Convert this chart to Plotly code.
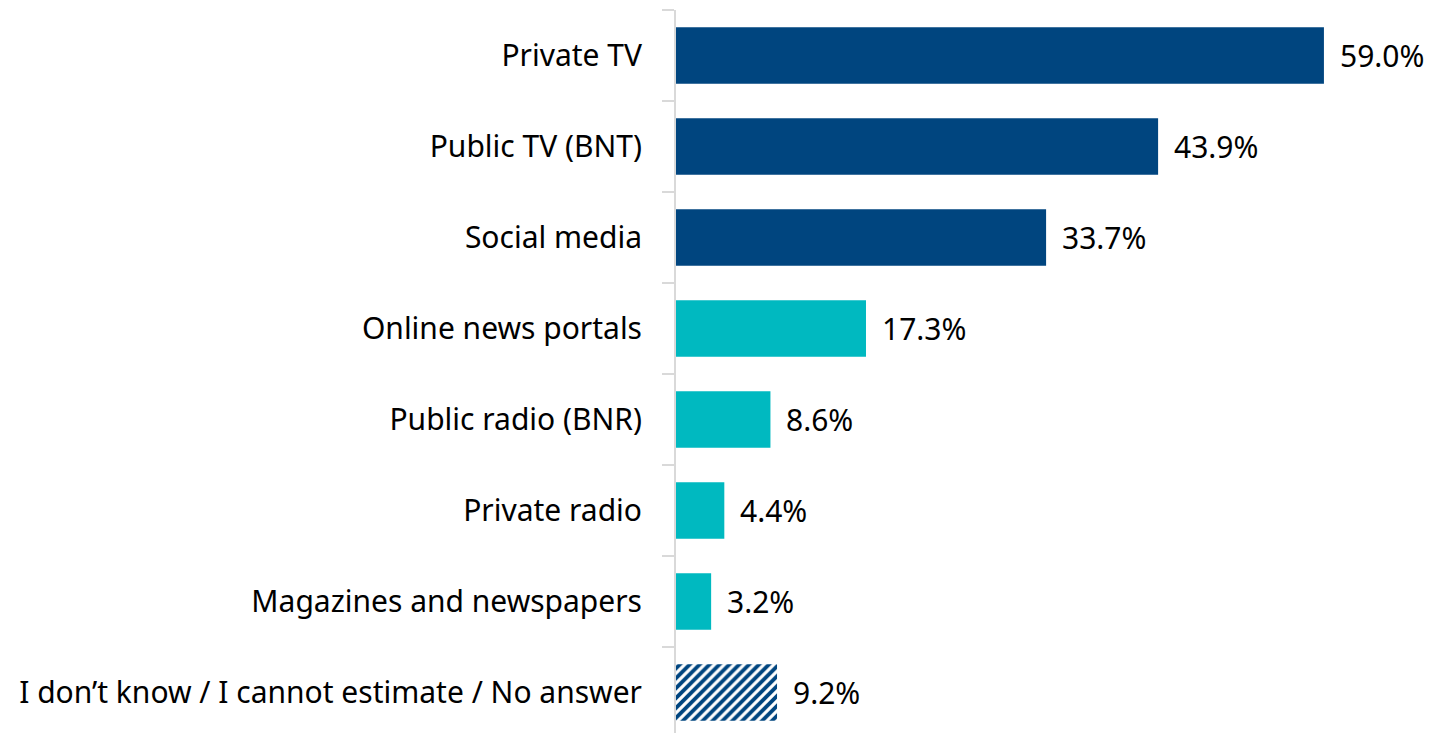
import plotly.graph_objects as go

categories = [
    "Private TV",
    "Public TV (BNT)",
    "Social media",
    "Online news portals",
    "Public radio (BNR)",
    "Private radio",
    "Magazines and newspapers",
    "I don\u2019t know / I cannot estimate / No answer",
]
values = [59.0, 43.9, 33.7, 17.3, 8.6, 4.4, 3.2, 9.2]
groups = ["tv", "tv", "tv", "online", "online", "online", "online", "none"]

DARK = "#00457F"
TEAL = "#00B9C0"
FONT = "Noto Sans"

solid = [i for i, g in enumerate(groups) if g != "none"]
hatched = [i for i, g in enumerate(groups) if g == "none"]

fig = go.Figure()
# solid bars for the named sources
fig.add_trace(go.Bar(
    y=[categories[i] for i in solid],
    x=[values[i] for i in solid],
    orientation="h",
    width=0.62,
    marker=dict(color=[DARK if groups[i] == "tv" else TEAL for i in solid], line=dict(width=0)),
    hoverinfo="skip",
))
# hatched bar for "no answer"
fig.add_trace(go.Bar(
    y=[categories[i] for i in hatched],
    x=[values[i] for i in hatched],
    orientation="h",
    width=0.62,
    marker=dict(
        color=DARK,
        line=dict(width=0),
        pattern=dict(shape="/", fillmode="overlay", fgcolor="white", fgopacity=1,
                     size=7, solidity=0.45),
    ),
    hoverinfo="skip",
))

for cat, v in zip(categories, values):
    fig.add_annotation(
        x=v, y=cat, text=f"{v:.1f}%", showarrow=False,
        xanchor="left", yanchor="middle", xshift=14,
        font=dict(family=FONT, size=30, color="black"),
    )

fig.update_layout(
    width=1431, height=733,
    margin=dict(l=676, r=0, t=10, b=0),
    paper_bgcolor="white", plot_bgcolor="white",
    showlegend=False,
    barmode="overlay",
    font=dict(family=FONT, size=30, color="black"),
)
fig.update_xaxes(range=[0, 68.75], visible=False)
fig.update_yaxes(
    type="category",
    categoryorder="array", categoryarray=categories,
    range=[7.445, -0.5],
    tickson="boundaries",
    ticks="outside", ticklen=12, tickwidth=2, tickcolor="#D9D9D9",
    showline=True, linecolor="#D9D9D9", linewidth=2,
    showgrid=False,
    ticklabelstandoff=26,
    tickfont=dict(family=FONT, size=30, color="black"),
)

fig.write_html("out.html")
